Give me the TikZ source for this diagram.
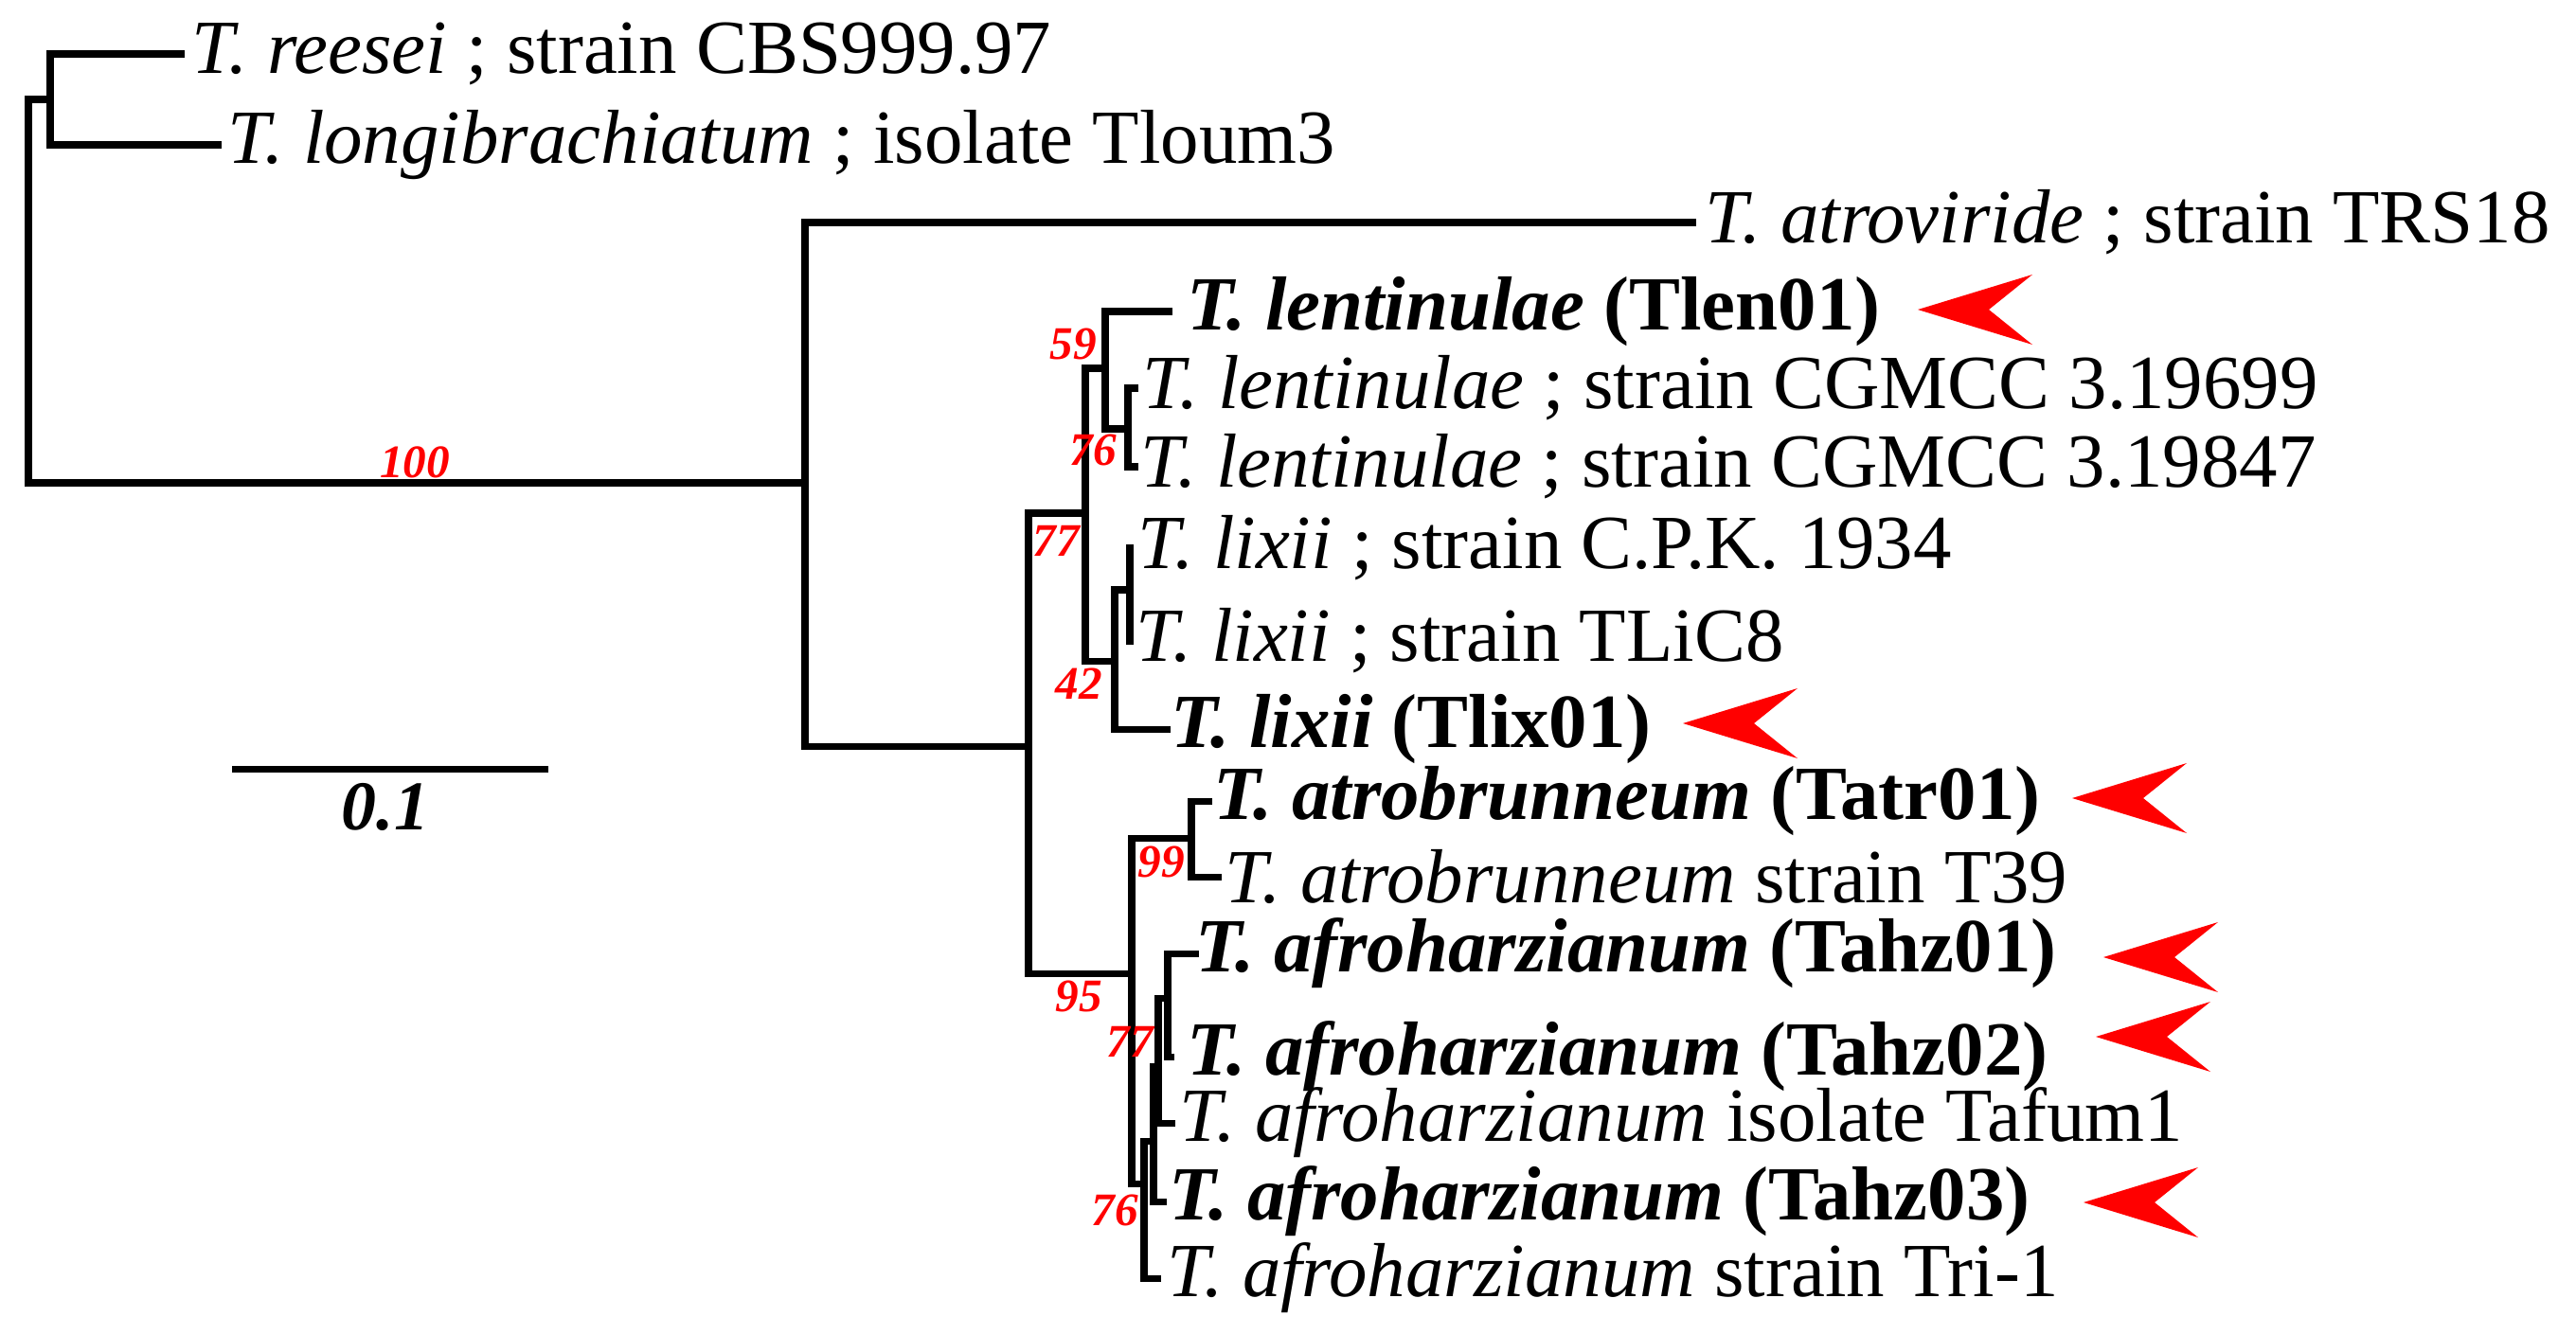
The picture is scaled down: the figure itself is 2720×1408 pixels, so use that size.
\documentclass[tikz,border=0pt]{standalone}
\usepackage{fontspec}
\setmainfont{Liberation Serif}
\begin{document}
\begin{tikzpicture}[x=0.01cm,y=-0.01cm,
  br/.style={line width=2pt,line cap=rect},
  lab/.style={anchor=west,inner sep=0pt,font=\fontsize{23}{25}\selectfont},
  bs/.style={text=red,font=\fontsize{14}{16}\selectfont\bfseries\itshape,inner sep=0pt},
  arr/.style={fill=red,draw=none}]
\useasboundingbox (0,0) rectangle (2720,1408);
% inner nodes
\coordinate (R) at (30,306);
\coordinate (N1) at (53,105);
\coordinate (N2) at (850,510);
\coordinate (N3) at (1086,788);
\coordinate (N77a) at (1146,542);
\coordinate (N59) at (1167,389);
\coordinate (N76a) at (1191,453);
\coordinate (N42) at (1177,698);
\coordinate (NL) at (1193,623);
\coordinate (N95) at (1195,1028);
\coordinate (N99) at (1258,885);
\coordinate (N76b) at (1208,1250);
\coordinate (NB) at (1218,1205);
\coordinate (N77b) at (1223,1126);
\coordinate (NC) at (1233,1054);
% leaves
\coordinate (Lree) at (191,57);
\coordinate (Llon) at (230,153);
\coordinate (Latv) at (1787,235);
\coordinate (Llen1) at (1234,329);
\coordinate (Llen2) at (1198,410);
\coordinate (Llen3) at (1198,493);
\coordinate (Llix1) at (1193,579);
\coordinate (Llix2) at (1193,677);
\coordinate (Llix3) at (1232,770);
\coordinate (Latr1) at (1276,846);
\coordinate (Latr2) at (1286,926);
\coordinate (Lahz1) at (1262,1007);
\coordinate (Lahz2) at (1236,1116);
\coordinate (Ltaf) at (1237,1186);
\coordinate (Lahz3) at (1228,1269);
\coordinate (Ltri) at (1222,1350);
% branches
\draw[br] (R) |- (N1); \draw[br] (R) |- (N2);
\draw[br] (N1) |- (Lree); \draw[br] (N1) |- (Llon);
\draw[br] (N2) |- (Latv); \draw[br] (N2) |- (N3);
\draw[br] (N3) |- (N77a); \draw[br] (N3) |- (N95);
\draw[br] (N77a) |- (N59); \draw[br] (N77a) |- (N42);
\draw[br] (N59) |- (Llen1); \draw[br] (N59) |- (N76a);
\draw[br] (N76a) |- (Llen2); \draw[br] (N76a) |- (Llen3);
\draw[br] (N42) |- (NL); \draw[br] (N42) |- (Llix3);
\draw[br] (NL) |- (Llix1); \draw[br] (NL) |- (Llix2);
\draw[br] (N95) |- (N99); \draw[br] (N95) |- (N76b);
\draw[br] (N99) |- (Latr1); \draw[br] (N99) |- (Latr2);
\draw[br] (N76b) |- (NB); \draw[br] (N76b) |- (Ltri);
\draw[br] (NB) |- (N77b); \draw[br] (NB) |- (Lahz3);
\draw[br] (N77b) |- (NC); \draw[br] (N77b) |- (Ltaf);
\draw[br] (NC) |- (Lahz1); \draw[br] (NC) |- (Lahz2);
% labels
\node[lab] (tree) at ([xshift=0.11cm]Lree) {\textit{T. reesei} ; strain CBS999.97};
\node[lab] (tlon) at ([xshift=0.10cm]Llon) {\textit{T. longibrachiatum} ; isolate Tloum3};
\node[lab] (tatv) at ([xshift=0.13cm]Latv) {\textit{T. atroviride} ; strain TRS18};
\node[lab] (tlen1) at ([xshift=0.19cm]Llen1) {\textbf{\textit{T. lentinulae} (Tlen01)}};
\node[lab] (tlen2) at ([xshift=0.08cm]Llen2) {\textit{T. lentinulae} ; strain CGMCC 3.19699};
\node[lab] (tlen3) at ([xshift=0.06cm]Llen3) {\textit{T. lentinulae} ; strain CGMCC 3.19847};
\node[lab] (tlix1) at ([xshift=0.08cm]Llix1) {\textit{T. lixii} ; strain C.P.K. 1934};
\node[lab] (tlix2) at ([xshift=0.06cm]Llix2) {\textit{T. lixii} ; strain TLiC8};
\node[lab] (tlix3) at ([xshift=0.04cm]Llix3) {\textbf{\textit{T. lixii} (Tlix01)}};
\node[lab] (tatr1) at ([xshift=0.05cm]Latr1) {\textbf{\textit{T. atrobrunneum} (Tatr01)}};
\node[lab] (tatr2) at ([xshift=0.07cm]Latr2) {\textit{T. atrobrunneum} strain T39};
\node[lab] (tahz1) at ([xshift=0.00cm]Lahz1) {\textbf{\textit{T. afroharzianum} (Tahz01)}};
\node[lab] (tahz2) at ([xshift=0.17cm]Lahz2) {\textbf{\textit{T. afroharzianum} (Tahz02)}};
\node[lab] (ttaf) at ([xshift=0.08cm]Ltaf) {\textit{T. afroharzianum} isolate Tafum1};
\node[lab] (tahz3) at ([xshift=0.06cm]Lahz3) {\textbf{\textit{T. afroharzianum} (Tahz03)}};
\node[lab] (ttri) at ([xshift=0.10cm]Ltri) {\textit{T. afroharzianum} strain Tri-1};
% bootstrap values
\node[bs] (b100) at (438,488) {100};
\node[bs] (b59) at (1133,363) {59};
\node[bs] (b76a) at (1154,475) {76};
\node[bs] (b77a) at (1115,571) {77};
\node[bs] (b42) at (1139,722) {42};
\node[bs] (b99) at (1226,910) {99};
\node[bs] (b95) at (1139,1052) {95};
\node[bs] (b77b) at (1193,1100) {77};
\node[bs] (b76b) at (1177,1278) {76};
% red arrowheads
\foreach \n/\x/\y in {a1/2025/327,a2/1777/764,a3/2188/843,a4/2221/1011,a5/2213/1095,a6/2200/1270}{
  \fill[red] (\x,\y) -- ++(121,-37) -- ++(-46,37) -- ++(46,37) -- cycle;
}
% scale bar
\coordinate (s1) at (245,812); \coordinate (s2) at (579,812);
\draw[br,line cap=butt] (s1) -- (s2);
\node[font=\fontsize{21}{23}\selectfont\bfseries\itshape,inner sep=0pt] (sc) at (407,852) {0.1};
\end{tikzpicture}
\end{document}
